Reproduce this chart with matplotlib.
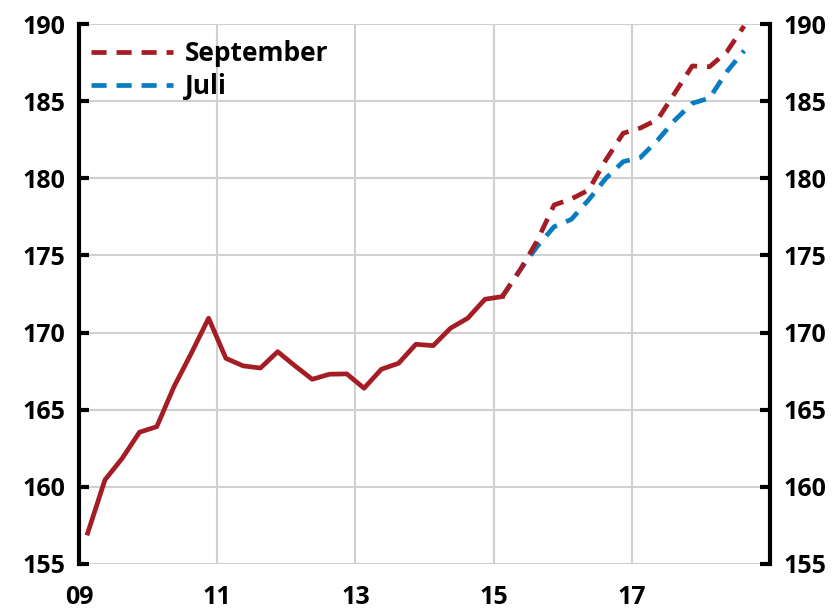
import matplotlib
matplotlib.use("Agg")
import matplotlib.pyplot as plt
import numpy as np

# Data (quarterly, mid-quarter positions, years since 2000)
hist_values = [157.0, 160.45, 161.85, 163.54, 163.9, 166.5, 168.66, 170.93,
               168.33, 167.84, 167.7, 168.76, 167.84, 166.97, 167.3, 167.32,
               166.39, 167.62, 168.01, 169.24, 169.15, 170.28, 170.93, 172.16,
               172.33]
sept_values = [172.33, 174.0, 175.9, 178.27, 178.66, 179.24, 181.19, 182.92,
               183.26, 183.82, 185.55, 187.28, 187.23, 188.2, 189.87]
juli_values = [172.33, 174.0, 175.55, 176.86, 177.34, 178.6, 180.0, 181.08,
               181.35, 182.48, 183.78, 184.86, 185.2, 186.91, 188.27]
hist_start = 9.125      # 2009 Q1 (mid-quarter)
fc_start = 15.125       # 2015 Q1 (mid-quarter)
x_ticks = [9, 11, 13, 15, 17]
x_tick_labels = ["09", "11", "13", "15", "17"]
y_ticks = [155, 160, 165, 170, 175, 180, 185, 190]

RED = "#A51D24"
BLUE = "#0A7DC2"

plt.rcParams["font.family"] = ["Open Sans", "DejaVu Sans"]
plt.rcParams["font.weight"] = "bold"

fig = plt.figure(figsize=(8.32, 6.11), dpi=100)
ax = fig.add_axes([0.095, 0.077, 0.8305, 0.8837])

xh = hist_start + 0.25 * np.arange(len(hist_values))
xf = fc_start + 0.25 * np.arange(len(sept_values))

LW = 3.4
ax.plot(xf, juli_values, color=BLUE, lw=LW, dashes=(3.2, 2.1), label="Juli",
        dash_capstyle="butt", zorder=3)
ax.plot(xf, sept_values, color=RED, lw=LW, dashes=(3.2, 2.1), label="September",
        dash_capstyle="butt", zorder=4)
ax.plot(xh, hist_values, color=RED, lw=LW, zorder=5)

ax.set_xlim(9, 19)
ax.set_ylim(155, 190)
ax.set_xticks(x_ticks)
ax.set_xticklabels(x_tick_labels)
ax.set_yticks(y_ticks)

ax.grid(True, color="#d0d0d0", lw=1.5, zorder=0)
ax.set_axisbelow(True)

for s in ["top", "bottom"]:
    ax.spines[s].set_visible(False)
for s in ["left", "right"]:
    ax.spines[s].set_linewidth(3)
    ax.spines[s].set_color("black")

ax.tick_params(axis="x", length=0, pad=15, labelsize=18)
ax.tick_params(axis="y", direction="in", length=7, width=3, labelsize=18,
               left=True, right=True, labelleft=True, labelright=True, pad=10)
for lab in ax.get_xticklabels() + ax.get_yticklabels():
    lab.set_fontweight("bold")

handles, labels = ax.get_legend_handles_labels()
order = [1, 0]
leg = ax.legend([handles[i] for i in order], [labels[i] for i in order],
                loc="upper left", frameon=False, fontsize=19, handlelength=3.1,
                handletextpad=0.45, labelspacing=0.25,
                bbox_to_anchor=(-0.005, 1.0), borderaxespad=0.2)
for t in leg.get_texts():
    t.set_fontweight("bold")

fig.savefig("out.png", dpi=100)
